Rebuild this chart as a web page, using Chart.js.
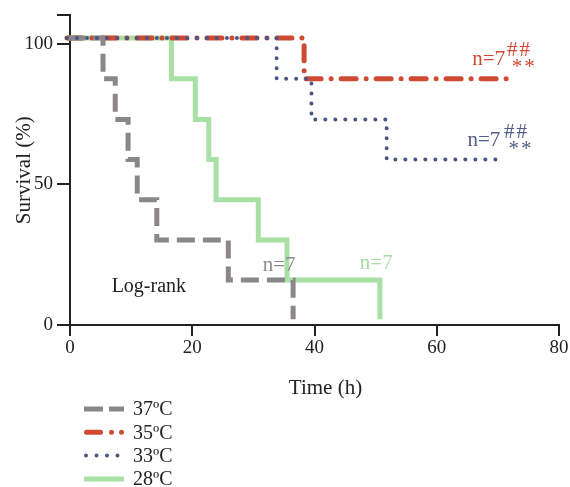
<!DOCTYPE html>
<html>
<head>
<meta charset="utf-8">
<script src="https://cdn.jsdelivr.net/npm/chart.js@4/dist/chart.umd.min.js"></script>
<style>
  html, body { margin: 0; padding: 0; background: #fff; }
  #wrap { width: 570px; height: 487px; }
</style>
</head>
<body>
<div id="wrap"><canvas id="km" width="570" height="487"></canvas></div>
<script>
// Kaplan-Meier survival by temperature
const labels = ['37ºC', '35ºC', '33ºC', '28ºC'];

const t37 = [-0.5, 5.4, 7.4, 9.5, 11.0, 14.2, 25.9, 36.5];
const s37 = [102, 87.5, 73, 58.8, 44.5, 30.2, 16, 2];

const t35 = [-0.5, 38.3, 71.4];
const s35 = [102, 87.5, 87.5];

const t33 = [-0.5, 33.8, 39.5, 51.8, 70];
const s33 = [102, 87.5, 73, 58.8, 58.8];

const t28 = [-0.5, 16.6, 20.5, 22.7, 23.9, 30.8, 35.5, 50.7];
const s28 = [102, 87.5, 73, 58.8, 44.5, 30.2, 16, 2];

const xTicks = [0, 20, 40, 60, 80];
const yTicks = [0, 50, 100, 110];

// text placed on the plot (in data units)
const notes = [
  { text: 'n=7', x: 71.2, y: 94.4, color: '#cf4a32', align: 'right', size: 21, sp: 0 },
  { text: '##', x: 71.5, y: 97.4, color: '#cf4a32', align: 'left', size: 21, sp: 2 },
  { text: '**', x: 74.3, y: 91.4, color: '#cf4a32', align: 'center', size: 21, sp: 2 },
  { text: 'n=7', x: 70.4, y: 65.7, color: '#535d86', align: 'right', size: 21, sp: 0 },
  { text: '##', x: 71.0, y: 68.4, color: '#535d86', align: 'left', size: 21, sp: 2 },
  { text: '**', x: 73.8, y: 62.2, color: '#535d86', align: 'center', size: 21, sp: 2 },
  { text: 'n=7', x: 34.2, y: 21.0, color: '#8e898d', align: 'center', size: 21, sp: 0 },
  { text: 'n=7', x: 50.1, y: 22.0, color: '#a6dea5', align: 'center', size: 21, sp: 0 },
  { text: 'Log-rank', x: 12.9, y: 13.6, color: '#222', align: 'center', size: 20, sp: 0 }
];

const pts = (xs, ys) => xs.map((x, i) => ({ x, y: ys[i] }));
const SERIF = '"Liberation Serif", "Times New Roman", serif';

const styles = [
  { color: '#8a868a', width: 5, dash: [18, 8], cap: 'butt', order: 1, legendDash: [19, 6] },
  { color: '#cf4a32', width: 5, dash: [15, 10, 0, 10], cap: 'round', order: 2, legendDash: [14, 11, 0, 10, 0, 60] },
  { color: '#4b5583', width: 4, dash: [0, 10], cap: 'round', order: 0, legendDash: [0, 10.5] },
  { color: '#a8e0a6', width: 5, dash: [], cap: 'butt', order: 3, legendDash: [] }
];
const series = [pts(t37, s37), pts(t35, s35), pts(t33, s33), pts(t28, s28)];

const datasets = series.map((data, i) => ({
  label: labels[i],
  data,
  stepped: true,
  borderColor: styles[i].color,
  borderWidth: styles[i].width,
  borderDash: styles[i].dash,
  borderCapStyle: styles[i].cap,
  borderJoinStyle: 'miter',
  pointRadius: 0,
  fill: false,
  clip: false,
  order: styles[i].order
}));

const extras = {
  id: 'extras',
  afterDatasetsDraw(chart) {
    const { ctx, scales: { x, y } } = chart;
    ctx.save();
    ctx.textBaseline = 'middle';
    for (const n of notes) {
      ctx.font = n.size + 'px ' + SERIF;
      ctx.fillStyle = n.color;
      ctx.textAlign = n.align;
      ctx.letterSpacing = n.sp + 'px';
      ctx.fillText(n.text, x.getPixelForValue(n.x), y.getPixelForValue(n.y));
    }
    ctx.letterSpacing = '0px';
    // x axis title sits a little right of centre in the original
    ctx.font = '21px ' + SERIF;
    ctx.fillStyle = '#222';
    ctx.textAlign = 'center';
    ctx.fillText('Time (h)', (chart.chartArea.left + chart.chartArea.right) / 2 + 11, x.bottom - 15);
    ctx.restore();
  },
  afterDraw(chart) {
    // vertical legend under the x axis
    const { ctx, chartArea } = chart;
    const x0 = chartArea.left + 14, len = 40;
    let yy = 409;
    ctx.save();
    labels.forEach((lab, i) => {
      const st = styles[i];
      ctx.beginPath();
      ctx.strokeStyle = st.color;
      ctx.lineWidth = st.width;
      ctx.lineCap = st.cap;
      ctx.setLineDash(st.legendDash);
      const pad = st.cap === 'round' ? st.width / 2 : 0;
      ctx.moveTo(x0 + pad, yy);
      ctx.lineTo(x0 + len, yy);
      ctx.stroke();
      ctx.setLineDash([]);
      ctx.font = '20px ' + SERIF;
      ctx.fillStyle = '#222';
      ctx.textAlign = 'left';
      ctx.textBaseline = 'middle';
      ctx.fillText(lab, x0 + len + 9, yy + 1);
      yy += 23.3;
    });
    ctx.restore();
  }
};

new Chart(document.getElementById('km'), {
  type: 'line',
  data: { datasets },
  plugins: [extras],
  options: {
    responsive: false,
    animation: false,
    devicePixelRatio: 1,
    layout: { padding: { left: 0, right: 11, top: 10, bottom: 84 } },
    plugins: { legend: { display: false }, tooltip: { enabled: false } },
    scales: {
      x: {
        type: 'linear',
        min: 0, max: 80,
        afterBuildTicks: (s) => { s.ticks = xTicks.map((v) => ({ value: v })); },
        afterFit: (s) => { s.height = 78; },
        grid: { drawOnChartArea: false, drawTicks: true, tickLength: 11, color: '#222', lineWidth: 2 },
        border: { color: '#222', width: 2 },
        ticks: { color: '#222', font: { family: SERIF, size: 19 }, padding: 1, maxRotation: 0 },
        title: { display: false }
      },
      y: {
        type: 'linear',
        min: 0, max: 110,
        afterBuildTicks: (s) => { s.ticks = yTicks.map((v) => ({ value: v })); },
        afterFit: (s) => { s.width = 70; },
        grid: { drawOnChartArea: false, drawTicks: true, tickLength: 13, color: '#222', lineWidth: 2 },
        border: { color: '#222', width: 2 },
        ticks: { color: '#222', font: { family: SERIF, size: 19 }, padding: 4, callback: (v) => (v === 110 ? '' : v) },
        title: { display: true, text: 'Survival (%)', color: '#222', font: { family: SERIF, size: 21 }, padding: { top: 12, bottom: 0 } }
      }
    }
  }
});
</script>
</body>
</html>
